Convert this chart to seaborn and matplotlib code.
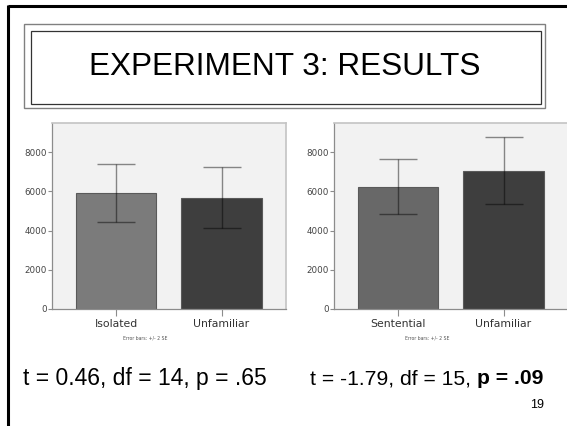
import matplotlib.pyplot as plt
import seaborn as sns
import numpy as np
from matplotlib.patches import Rectangle

# values (mean, +/- 2 SE)
left_conditions = ['Isolated', 'Unfamiliar']
left_means = [5920, 5680]
left_lower = [4420, 4130]
left_upper = [7400, 7250]
left_colors = ['#7b7b7b', '#3e3e3e']

right_conditions = ['Sentential', 'Unfamiliar']
right_means = [6230, 7050]
right_lower = [4860, 5330]
right_upper = [7630, 8780]
right_colors = ['#686868', '#3e3e3e']

y_ticks = [0, 2000, 4000, 6000, 8000]
title = "EXPERIMENT 3: RESULTS"
left_stats = "t = 0.46, df = 14, p = .65"
right_stats = "t = -1.79, df = 15, "
right_stats_bold = "p = .09"
page_no = "19"

sns.set_style('white')
plt.rcParams['font.family'] = ['DejaVu Sans']

W, H = 567, 426
fig = plt.figure(figsize=(W / 100, H / 100), dpi=100)

# slide layer in pixel coordinates
bg = fig.add_axes([0, 0, 1, 1])
bg.set_xlim(0, W)
bg.set_ylim(H, 0)
bg.axis('off')
bg.plot([7.5, W], [6, 6], color='black', lw=2.2, solid_capstyle='butt')
bg.plot([7.5, 7.5], [4.5, H], color='black', lw=2.2, solid_capstyle='butt')
bg.add_patch(Rectangle((23.5, 23.5), 521, 84.5, fill=False, ec='#808080', lw=1))
bg.add_patch(Rectangle((31, 31), 509.5, 73, fill=False, ec='#333333', lw=0.9))
slide_font = dict(family='Liberation Sans', color='black')
bg.text(285, 67, title, fontsize=22.7, ha='center', va='center', **slide_font)
bg.text(23, 384.5, left_stats, fontsize=16.5, ha='left', va='baseline', **slide_font)
rt = bg.text(310, 384.5, right_stats, fontsize=15.2, ha='left', va='baseline', **slide_font)
bg.annotate(right_stats_bold, xy=(1, 0), xycoords=rt, fontsize=15.2, fontweight='bold',
            ha='left', va='bottom', **slide_font)
bg.text(544.5, 408.5, page_no, fontsize=9, ha='right', va='baseline', **slide_font)


def draw_panel(left_px, conditions, means, lower, upper, colors):
    ax = fig.add_axes([left_px / W, 1 - 309 / H, 234 / W, 186 / H])
    sns.barplot(x=conditions, y=means, hue=conditions, palette=colors, legend=False,
                width=0.76, edgecolor='#5a5a5a', linewidth=0.8, errorbar=None, ax=ax)
    means = np.array(means)
    yerr = [means - np.array(lower), np.array(upper) - means]
    ax.errorbar(range(len(conditions)), means, yerr=yerr, fmt='none', ecolor='black',
                alpha=0.45, elinewidth=1, capsize=14, capthick=1)
    ax.set_facecolor('#f2f2f2')
    ax.set_xlim(-0.607, 1.611)
    ax.set_ylim(0, 9480)
    ax.set_yticks(y_ticks)
    ax.set_xlabel('')
    ax.set_ylabel('')
    for side in ['left', 'bottom']:
        ax.spines[side].set_color('#8c8c8c')
        ax.spines[side].set_linewidth(0.9)
    for side in ['top', 'right']:
        ax.spines[side].set_color('#c4c4c4')
        ax.spines[side].set_linewidth(1.2)
    ax.tick_params(axis='y', labelsize=6.3, labelcolor='#444444', color='#8c8c8c',
                   length=3, width=0.8, pad=0.5, left=True)
    ax.tick_params(axis='x', labelsize=7.8, labelcolor='#333333', color='#8c8c8c',
                   length=5, width=0.8, pad=2, bottom=True)
    bg.text(left_px + 93, 338, "Error bars: +/- 2 SE", fontsize=3.3, color='#555555',
            ha='center', va='center')
    return ax


draw_panel(52, left_conditions, left_means, left_lower, left_upper, left_colors)
draw_panel(334, right_conditions, right_means, right_lower, right_upper, right_colors)

fig.savefig('out.png', dpi=100)
